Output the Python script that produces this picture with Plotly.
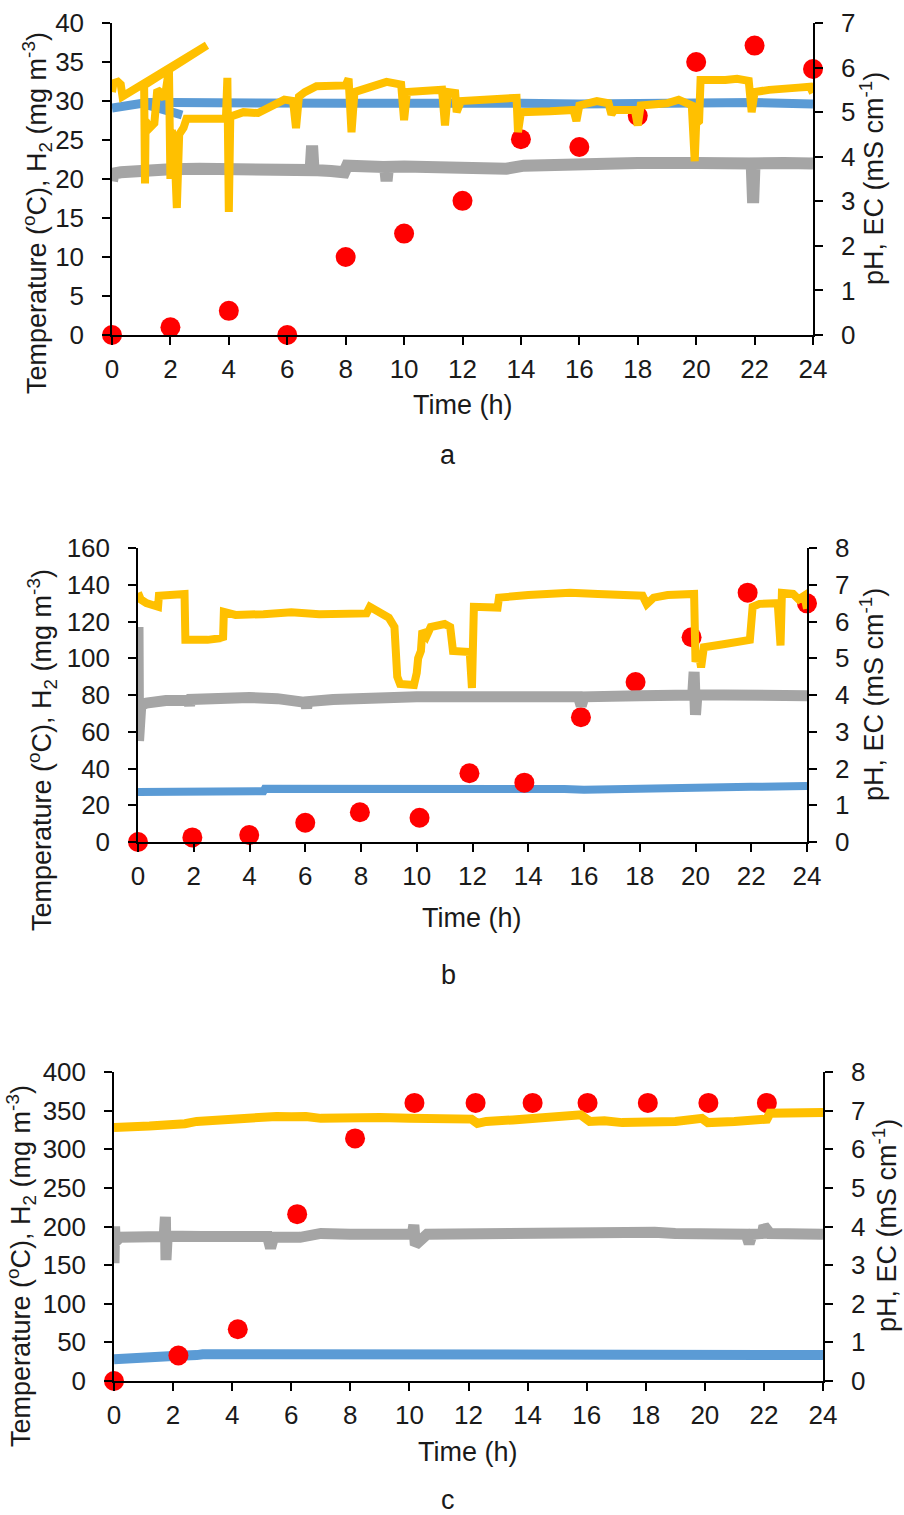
import plotly.graph_objects as go

# ---------------- Panel a ----------------
a_temp_t = [0, 0.3, 0.7, 1.2, 2, 4, 6, 8, 10, 12, 14, 16, 18, 20, 22, 24, None, 1.2, 1.8, 2.4]
a_temp_v = [29.1, 29.3, 29.6, 29.8, 29.8, 29.7, 29.6, 29.7, 29.7, 29.8, 29.7, 29.6, 29.7, 29.7, 29.8, 29.6, None, 29.5, 28.9, 28.2]

a_h2_t = [0, 2, 4, 6, 8, 10, 12, 14, 16, 18, 20, 22, 24]
a_h2_v = [0, 1.0, 3.1, 0, 10, 13, 17.2, 25.1, 24.1, 28.1, 35, 37.1, 34.1]

a_ph_t = [0, 0.05, 0.2, 0.3, 0.36, 3.25, 1.1, 1.13, 1.15, 1.3, 1.45, 1.55, 1.65, 1.8, 1.95, 2.0, 2.05,
          2.15, 2.22, 2.3, 2.45, 2.55, 3.0, 3.9, 3.95, 4.0, 4.05, 4.5, 5.0, 5.5, 5.9, 6.2, 6.3, 6.4,
          6.6, 7.0, 8.0, 8.1, 8.2, 8.3, 9.0, 9.4, 9.9, 10.0, 10.1, 11.3, 11.4, 11.5, 11.75, 11.8,
          11.95, 13.0, 13.85, 13.9, 14.0, 15.0, 15.8, 15.9, 16.0, 16.6, 17.0, 17.1, 17.2, 17.9, 18.0,
          18.1, 19.0, 19.4, 19.85, 19.95, 20.0, 20.1, 20.15, 21.0, 21.4, 21.8, 21.9, 22.0, 22.5,
          23.5, 23.9, 24.0]
a_ph_v = [5.45, 5.65, 5.68, 5.62, 5.35, 6.5, 5.6, 3.4, 4.8, 4.65, 4.75, 5.5, 5.45, 5.3, 5.95, 3.5, 4.6,
          4.0, 2.85, 4.5, 4.65, 4.85, 4.85, 4.85, 5.77, 2.76, 4.9, 5.0, 4.98, 5.15, 5.28, 5.25, 4.64, 5.35,
          5.45, 5.58, 5.6, 5.75, 4.55, 5.45, 5.6, 5.68, 5.62, 4.82, 5.45, 5.5, 4.7, 5.45, 5.43, 5.0,
          5.25, 5.3, 5.32, 4.55, 5.0, 5.02, 5.05, 4.8, 5.15, 5.25, 5.2, 4.95, 5.05, 5.05, 4.7,
          5.15, 5.2, 5.28, 5.15, 3.9, 4.75, 4.8, 5.72, 5.72, 5.75, 5.7, 5.0, 5.45, 5.5,
          5.55, 5.57, 5.43]

a_ec_t = [0, 0.05, 0.3, 1, 2, 3, 4, 5, 6, 6.8, 6.85, 6.9, 7.5, 7.95, 8.05, 9, 9.35, 9.4, 9.45, 10,
          12, 13.5, 14.1, 15, 15.9, 16.1, 18, 20, 21.9, 21.95, 22.0, 23, 24]
a_ec_v = [3.45, 3.62, 3.65, 3.7, 3.72, 3.73, 3.72, 3.72, 3.72, 3.7, 4.25, 3.7, 3.68, 3.65, 3.8, 3.78,
          3.77, 3.45, 3.77, 3.78, 3.78, 3.73, 3.8, 3.82, 3.82, 3.86, 3.86, 3.86, 3.85, 2.96, 3.85, 3.86, 3.85]

# ---------------- Panel b ----------------
b_temp_t = [0, 1, 2, 3, 4, 4.5, 4.55, 6, 8, 10, 12, 14, 15.3, 16, 17, 17.8, 19, 20, 22, 24]
b_temp_v = [27.2, 27.3, 27.4, 27.5, 27.6, 27.6, 29.0, 29.1, 29.2, 29.2, 29.2, 29.1, 28.8, 28.5, 28.5,
            28.6, 29.3, 29.5, 30.0, 30.5]

b_h2_t = [0, 1.95, 3.99, 6.0, 7.96, 10.1, 11.89, 13.86, 15.89, 17.85, 19.86, 21.87, 24]
b_h2_v = [0, 2.5, 3.8, 10.5, 16.2, 13.2, 37.4, 32.3, 67.9, 87.1, 111.4, 135.7, 129.9]

b_ph_t = [0, 0.1, 0.3, 0.6, 0.72, 0.75, 1.0, 1.5, 1.67, 1.7, 2.0, 2.5, 3.0, 3.05, 3.08, 3.5, 4.5, 5.5,
          6.5, 7.5, 8.2, 8.32, 8.6, 9.0, 9.2, 9.3, 9.4, 9.9, 10.0, 10.05, 10.15, 10.2, 10.35, 10.5,
          11.0, 11.2, 11.3, 11.9, 11.98, 12.05, 12.9, 12.95, 14, 15.5, 16.5, 17.5, 18.1, 18.25, 18.5,
          19.0, 19.95, 20.0, 20.1, 20.2, 20.3, 21, 21.5, 21.95, 22.05, 22.3, 22.95, 23.05, 23.1,
          23.5, 23.7, 23.9, 24]
b_ph_v = [6.78, 6.6, 6.5, 6.42, 6.4, 6.7, 6.72, 6.72, 6.75, 5.5, 5.48, 5.5, 5.55, 5.5, 6.26, 6.18, 6.2,
          6.25, 6.2, 6.2, 6.22, 6.4, 6.25, 6.1, 5.85, 4.5, 4.3, 4.27, 4.6, 5.0, 5.2, 5.75, 5.6, 5.85,
          5.93, 5.85, 5.2, 5.17, 4.19, 6.4, 6.38, 6.65, 6.72, 6.78, 6.75, 6.7, 6.7, 6.47, 6.65,
          6.72, 6.75, 4.9, 5.2, 4.75, 5.3, 5.38, 5.43, 5.5, 6.4, 6.48, 6.5, 5.35, 6.78,
          6.75, 6.6, 6.7, 6.35]

b_ec_t = [0, 0.02, 0.04, 0.1, 0.3, 1, 1.8, 1.85, 1.9, 3, 4, 5, 6.0, 6.05, 6.1, 7, 8.0, 8.1, 10, 12,
          14, 15.8, 15.9, 16.0, 18, 19.9, 19.95, 20.0, 20.05, 21, 22, 23, 24]
b_ec_v = [5.85, 2.75, 3.6, 3.72, 3.78, 3.85, 3.85, 3.72, 3.88, 3.92, 3.93, 3.9, 3.8, 3.65, 3.82, 3.88,
          3.9, 3.96, 3.95, 3.95, 3.95, 3.95, 3.7, 3.95, 3.98, 4.0, 4.63, 3.46, 4.0, 4.0, 4.0, 4.0, 3.98]

# ---------------- Panel c ----------------
c_temp_t = [0, 0.4, 0.5, 1, 2, 2.8, 3, 5, 7, 9, 10.6, 12.1, 14, 16, 18, 20, 22, 24]
c_temp_v = [28, 29, 31.5, 32, 32.5, 33.5, 34.5, 34.5, 34.5, 34.5, 34.5, 33.7, 33.7, 33.7, 33.7, 33.7, 33.7, 33.7]

c_h2_t = [0, 2.18, 4.19, 6.2, 8.16, 10.17, 12.24, 14.17, 16.03, 18.07, 20.12, 22.1]
c_h2_v = [0, 33, 67, 216, 314, 360, 360, 360, 360, 360, 360, 360]

c_ph_t = [0, 0.4, 0.8, 1.2, 1.6, 2.0, 2.4, 2.8, 3.2, 3.6, 4.0, 4.5, 5.0, 5.5, 6.0, 6.5, 7.0, 8.0, 9.0,
          10.0, 10.6, 12.1, 12.3, 12.6, 13.5, 14.5, 15.5, 15.8, 16.1, 16.6, 17.2, 18, 19, 19.9, 20.1,
          21, 22.1, 22.2, 23, 24]
c_ph_v = [6.56, 6.56, 6.58, 6.6, 6.62, 6.63, 6.66, 6.72, 6.74, 6.76, 6.8, 6.84, 6.82, 6.85, 6.84, 6.85,
          6.8, 6.82, 6.82, 6.8, 6.8, 6.78, 6.67, 6.72, 6.76, 6.8, 6.85, 6.89, 6.72, 6.74, 6.69, 6.7,
          6.72, 6.8, 6.69, 6.72, 6.78, 6.93, 6.93, 6.95]

c_ec_t = [0, 0.02, 0.04, 0.2, 1, 1.7, 1.74, 1.76, 1.8, 3, 4, 5.2, 5.3, 5.4, 6.3, 7.0, 8, 9, 10.1, 10.15,
          10.2, 10.6, 12.1, 12.3, 13, 15, 16, 17, 18.3, 19, 20, 21.4, 21.5, 21.6, 21.95, 22.0, 22.2, 23, 24]
c_ec_v = [3.05, 4.0, 3.6, 3.72, 3.74, 3.74, 4.25, 3.13, 3.75, 3.74, 3.73, 3.74, 3.44, 3.72, 3.72, 3.82,
          3.8, 3.79, 3.8, 4.04, 3.52, 3.8, 3.82, 3.78, 3.79, 3.8, 3.82, 3.83, 3.85, 3.82, 3.8, 3.8,
          3.56, 3.8, 3.82, 4.02, 3.82, 3.8, 3.8]

x_ticks = list(range(0, 25, 2))
left_ranges = [(0, 40, 5), (0, 160, 20), (0, 400, 50)]
right_ranges = [(0, 7, 1), (0, 8, 1), (0, 8, 1)]
panel_letters = ["a", "b", "c"]

BLUE = "#5B9BD5"
RED = "#FF0000"
GRAY = "#A5A5A5"
YELLOW = "#FFC000"
FONT = "Liberation Sans, Arial, sans-serif"
TXT = "#1a1a1a"

W, H = 904, 1515
# plot-area pixel boxes: (x0, x1, ytop, ybottom)
boxes = [(112, 813, 23, 335), (138, 807, 548, 842), (114, 823, 1072, 1381)]

panels = [
    (a_temp_t, a_temp_v, a_h2_t, a_h2_v, a_ph_t, a_ph_v, a_ec_t, a_ec_v, 9, 8, 12),
    (b_temp_t, b_temp_v, b_h2_t, b_h2_v, b_ph_t, b_ph_v, b_ec_t, b_ec_v, 8, 8, 11),
    (c_temp_t, c_temp_v, c_h2_t, c_h2_v, c_ph_t, c_ph_v, c_ec_t, c_ec_v, 10, 9, 11),
]

TICK_SIZE = 26
TITLE_SIZE = 27

fig = go.Figure()
layout = dict(width=W, height=H, margin=dict(l=0, r=0, t=0, b=0, autoexpand=False),
              paper_bgcolor="white", plot_bgcolor="white", showlegend=False,
              font=dict(family=FONT, size=TICK_SIZE, color=TXT))
annotations = []

for i, (tt, tv, ht, hv, pt, pv, et, ev, bw, yw, gw) in enumerate(panels):
    x0, x1, yt, yb = boxes[i]
    xn = "x" if i == 0 else f"x{i + 1}"
    yl = "y" if i == 0 else f"y{2 * i + 1}"
    yr = f"y{2 * i + 2}"
    xk = "xaxis" if i == 0 else f"xaxis{i + 1}"
    ylk = "yaxis" if i == 0 else f"yaxis{2 * i + 1}"
    yrk = f"yaxis{2 * i + 2}"
    xdom = [x0 / W, x1 / W]
    ydom = [1 - yb / H, 1 - yt / H]

    fig.add_trace(go.Scatter(x=tt, y=tv, mode="lines", line=dict(color=BLUE, width=bw),
                             xaxis=xn, yaxis=yl, connectgaps=False, cliponaxis=False))
    fig.add_trace(go.Scatter(x=ht, y=hv, mode="markers", marker=dict(color=RED, size=20),
                             xaxis=xn, yaxis=yl, cliponaxis=False))
    fig.add_trace(go.Scatter(x=et, y=ev, mode="lines", line=dict(color=GRAY, width=gw),
                             xaxis=xn, yaxis=yr, cliponaxis=False))
    fig.add_trace(go.Scatter(x=pt, y=pv, mode="lines", line=dict(color=YELLOW, width=yw),
                             xaxis=xn, yaxis=yr, cliponaxis=False))

    axcommon = dict(showgrid=False, zeroline=False, showline=True, linecolor="black", linewidth=1.5,
                    ticks="outside", ticklen=8, tickwidth=1.5, tickcolor="black", automargin=False,
                    tickfont=dict(family=FONT, size=TICK_SIZE, color=TXT))
    layout[xk] = dict(domain=xdom, anchor=yl, range=[0, 24], tickvals=x_ticks,
                      ticklabelstandoff=2, **axcommon)
    lo, hi, dt = left_ranges[i]
    layout[ylk] = dict(domain=ydom, anchor=xn, range=[lo, hi], dtick=dt, tick0=0,
                       ticklabelstandoff=13, **axcommon)
    lo, hi, dt = right_ranges[i]
    layout[yrk] = dict(overlaying=yl, anchor=xn, side="right", range=[lo, hi], dtick=dt, tick0=0,
                       ticklabelstandoff=13, **axcommon)

# axis titles and panel letters (pixel positions)
time_pos = [(463, 405), (472, 918), (468, 1452)]
left_title_pos = [(37, 213), (42, 750), (21, 1266)]
right_title_right = [(890, 179), (890, 695), (903, 1226)]
letter_pos = [(448, 455), (448, 975), (448, 1500)]

for i in range(3):
    tx, ty = time_pos[i]
    annotations.append(dict(text="Time (h)", x=tx / W, y=1 - ty / H, xref="paper", yref="paper",
                            showarrow=False, font=dict(size=TITLE_SIZE, family=FONT, color=TXT),
                            xanchor="center", yanchor="middle"))
    lx, ly = left_title_pos[i]
    annotations.append(dict(text="Temperature (<sup>o</sup>C), H<sub>2</sub> (mg m<sup>-3</sup>)",
                            x=lx / W, y=1 - ly / H, xref="paper", yref="paper", textangle=-90,
                            showarrow=False, font=dict(size=TITLE_SIZE, family=FONT, color=TXT),
                            xanchor="center", yanchor="middle"))
    rx, ry = right_title_right[i]
    annotations.append(dict(text="pH, EC (mS cm<sup>-1</sup>)",
                            x=rx / W, y=1 - ry / H, xref="paper", yref="paper", textangle=-90,
                            showarrow=False, font=dict(size=TITLE_SIZE, family=FONT, color=TXT),
                            xanchor="right", yanchor="middle", borderpad=0))
    px_, py_ = letter_pos[i]
    annotations.append(dict(text=panel_letters[i], x=px_ / W, y=1 - py_ / H, xref="paper",
                            yref="paper", showarrow=False,
                            font=dict(size=TITLE_SIZE, family=FONT, color=TXT),
                            xanchor="center", yanchor="middle"))

layout["annotations"] = annotations
fig.update_layout(**layout)
fig.write_html(
    "out.html",
    config={"displayModeBar": False},
    post_script="document.body.style.margin='0';document.body.style.padding='0';"
                "document.documentElement.style.overflow='hidden';",
)
